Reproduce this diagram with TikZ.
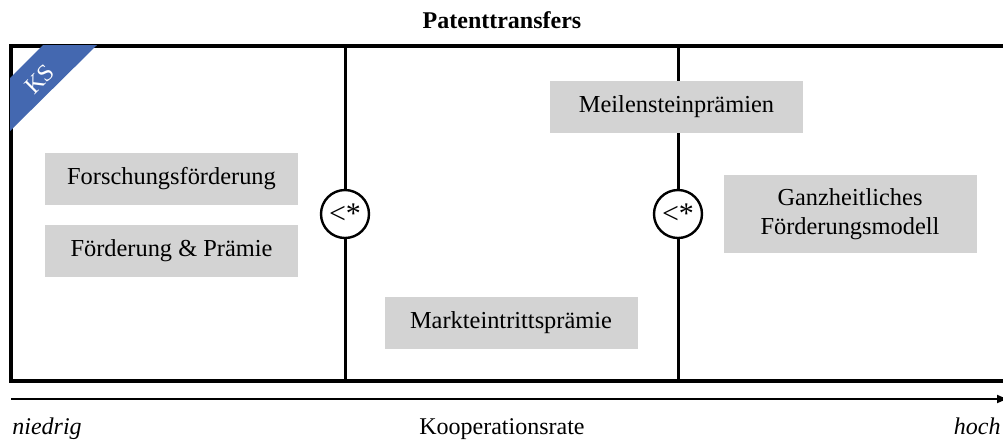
\documentclass[tikz,border=0pt]{standalone}
\usepackage{fontspec}
\setmainfont{Liberation Serif}
\usetikzlibrary{arrows.meta,positioning}
\definecolor{feldgrau}{HTML}{D3D3D3}
\definecolor{ksblau}{HTML}{4468B0}
\tikzset{
  feld/.style={fill=feldgrau,minimum width=126.5pt,minimum height=26pt,inner sep=2pt,align=center,font=\fontsize{12.2}{14.5}\selectfont},
  rahmen/.style={black,line width=1.6pt},
  trenn/.style={black,line width=1.5pt},
  kreis/.style={circle,draw=black,fill=white,line width=1.2pt,minimum size=24pt,inner sep=0pt,font=\fontsize{15}{16}\selectfont},
  achse/.style={-{Triangle[length=5pt,width=4pt]},black,line width=0.9pt},
  beschr/.style={font=\fontsize{12}{14}\selectfont},
}

\begin{document}
\begin{tikzpicture}[x=0.5pt,y=-0.5pt]
  \useasboundingbox (0,0) rectangle (1003,441);
  \clip (0,0) rectangle (1003,441);
  \node[beschr,font=\fontsize{12}{14}\selectfont\bfseries] (titel) at (502,20) {Patenttransfers};
  % --- Rahmen und Trennlinien ---
  \draw[rahmen] (11,46) rectangle (1012,381);
  \coordinate (o1) at (345,46);
  \coordinate (u1) at (345,381);
  \coordinate (o2) at (678,46);
  \coordinate (u2) at (678,381);
  \node[kreis] (k1) at (345,214) {<*};
  \node[kreis] (k2) at (678,214) {<*};
  \draw[trenn] (o1) -- (k1) -- (u1);
  \draw[trenn] (o2) -- (k2) -- (u2);
  % --- KS-Ecke ---
  \fill[ksblau] (43,45) -- (97,45) -- (10,131) -- (10,78) -- cycle;
  \node[white,rotate=45,inner sep=0pt,beschr] (ks) at (40,79) {KS};
  % --- Felder ---
  \node[feld] (forsch) at (171.5,179) {Forschungsförderung};
  \node[feld] (foerd) at (171.5,250.5) {Förderung \& Prämie};
  \node[feld] (meil) at (676.5,107) {Meilensteinprämien};
  \node[feld,minimum height=39pt] (ganz) at (850,214) {Ganzheitliches\\Förderungsmodell};
  \node[feld] (markt) at (511,322.5) {Markteintrittsprämie};
  % --- Achse ---
  \coordinate (a0) at (11,399);
  \coordinate (a1) at (1007,399);
  \draw[achse] (a0) -- (a1);
  \node[beschr,font=\fontsize{12}{14}\selectfont\itshape,anchor=base west,inner sep=0pt] (niedrig) at (12,434) {niedrig};
  \node[beschr,anchor=base,inner sep=0pt] (koop) at (502,434) {Kooperationsrate};
  \node[beschr,font=\fontsize{12}{14}\selectfont\itshape,anchor=base east,inner sep=0pt] (hoch) at (1001,434) {hoch};
\end{tikzpicture}
\end{document}
